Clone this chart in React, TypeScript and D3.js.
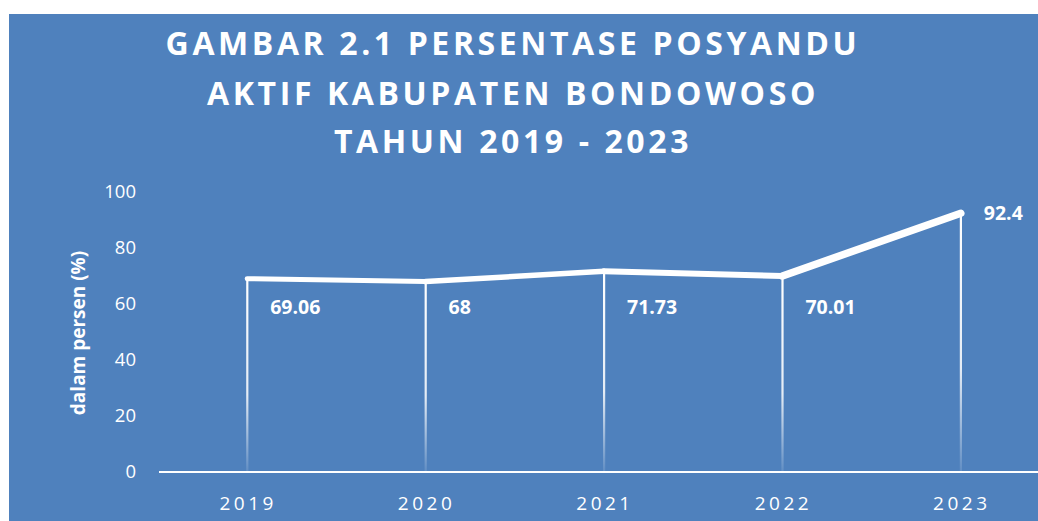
import React from "react";
import * as d3 from "d3";

const years = ["2019", "2020", "2021", "2022", "2023"];
const values = [69.06, 68, 71.73, 70.01, 92.4];
const valueLabels = ["69.06", "68", "71.73", "70.01", "92.4"];
const yTicks = [0, 20, 40, 60, 80, 100];
const titleLines = [
  "GAMBAR 2.1 PERSENTASE POSYANDU",
  "AKTIF KABUPATEN BONDOWOSO",
  "TAHUN 2019 - 2023",
];
const yAxisTitle = "dalam persen (%)";

const W = 1038;
const H = 521;
const BG = "#4F81BD";
const FONT = "'Open Sans', 'Noto Sans', sans-serif";

export default function App() {
  const x = d3.scaleBand<string>().domain(years).range([158, 1050]).padding(0);
  const y = d3.scaleLinear().domain([0, 100]).range([472, 192]);
  const cx = (d: string) => (x(d) as number) + x.bandwidth() / 2;
  const pts = years.map((yr, i) => [cx(yr), y(values[i])] as [number, number]);
  const segWidths = [5, 5.5, 6, 7.5];
  const line = d3.line();
  const titleBase = [55, 105, 153];

  return (
    <svg
      width={W}
      height={H}
      style={{ position: "absolute", left: 0, top: 0 }}
      xmlns="http://www.w3.org/2000/svg"
    >
      <defs>
        <linearGradient id="drop" x1="0" y1="0" x2="0" y2="1">
          <stop offset="0" stopColor="#fff" stopOpacity={1} />
          <stop offset="0.6" stopColor="#fff" stopOpacity={0.85} />
          <stop offset="1" stopColor="#fff" stopOpacity={0.1} />
        </linearGradient>
      </defs>
      <rect x={0} y={0} width={W} height={H} fill="#fff" />
      <rect x={9} y={14} width={W - 9} height={H - 14} fill={BG} />

      {titleLines.map((t, i) => (
        <text
          key={t}
          x={513}
          y={titleBase[i]}
          textAnchor="middle"
          fill="#fff"
          fontFamily={FONT}
          fontWeight={700}
          fontSize={32}
          letterSpacing={3.6}
        >
          {t}
        </text>
      ))}

      {yTicks.map((t) => (
        <text
          key={t}
          x={136}
          y={y(t)}
          dy="0.35em"
          textAnchor="end"
          fill="#fff"
          fontFamily={FONT}
          fontSize={18.5}
        >
          {t}
        </text>
      ))}

      <text
        transform={`translate(85,${333}) rotate(-90)`}
        textAnchor="middle"
        fill="#fff"
        fontFamily={FONT}
        fontWeight={700}
        fontSize={19}
      >
        {yAxisTitle}
      </text>

      {pts.map(([px, py], i) => (
        <rect
          key={"d" + i}
          x={px - 1}
          y={py}
          width={2.2}
          height={y(0) - py}
          fill="url(#drop)"
        />
      ))}

      <line x1={159} x2={W} y1={y(0)} y2={y(0)} stroke="#fff" strokeWidth={2} />

      {pts.slice(0, -1).map((p, i) => (
        <path
          key={"s" + i}
          d={line([p, pts[i + 1]]) || ""}
          stroke="#fff"
          strokeWidth={segWidths[i]}
          strokeLinecap="round"
          fill="none"
        />
      ))}

      {years.map((yr) => (
        <text
          key={yr}
          x={cx(yr) + 1}
          y={510}
          textAnchor="middle"
          fill="#fff"
          fontFamily={FONT}
          fontSize={19}
          letterSpacing={3.5}
        >
          {yr}
        </text>
      ))}

      {pts.map(([px, py], i) => {
        const last = i === pts.length - 1;
        return (
          <text
            key={"l" + i}
            x={px + 23}
            y={last ? py : 307}
            dy="0.35em"
            fill="#fff"
            fontFamily={FONT}
            fontWeight={700}
            fontSize={19.5}
          >
            {valueLabels[i]}
          </text>
        );
      })}
    </svg>
  );
}
